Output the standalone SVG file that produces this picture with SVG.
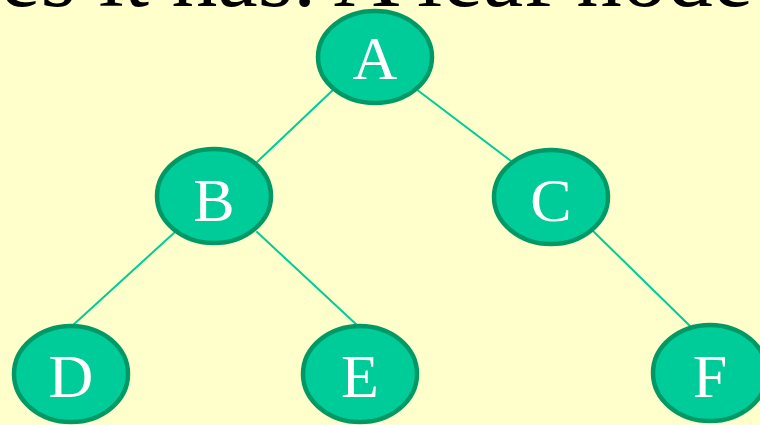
<svg xmlns="http://www.w3.org/2000/svg" width="760" height="425" viewBox="0 0 760 425">
  <style>
    .node ellipse { fill: #00cc99; stroke: #009966; stroke-width: 4.5; }
    .node text { fill: #ffffff; font-family: "Liberation Serif", "Times New Roman", serif; font-size: 62px; text-anchor: middle; }
    .edges line { stroke: #00cc99; stroke-width: 2; stroke-linecap: round; }
    .caption { fill: #000000; font-family: "Liberation Serif", "Times New Roman", serif; font-size: 91px; }
  </style>
  <rect width="760" height="425" fill="#ffffcc"/>
  <text class="caption" x="0" y="6">es it has. A leaf node</text>

  <g id="edges" class="edges">
    <line x1="334" y1="89" x2="257" y2="162"/>
    <line x1="416" y1="89" x2="511" y2="161"/>
    <line x1="175" y1="232" x2="72" y2="326"/>
    <line x1="257" y1="232" x2="358" y2="326"/>
    <line x1="593" y1="231" x2="690" y2="326"/>
  </g>

  <g id="node-A" class="node">
    <ellipse cx="375" cy="57" rx="57" ry="46"/>
    <text x="375" y="79">A</text>
  </g>
  <g id="node-B" class="node">
    <ellipse cx="214" cy="196" rx="57" ry="47"/>
    <text x="214" y="221">B</text>
  </g>
  <g id="node-C" class="node">
    <ellipse cx="551" cy="197" rx="57" ry="47"/>
    <text x="551" y="221">C</text>
  </g>
  <g id="node-D" class="node">
    <ellipse cx="71" cy="374" rx="57" ry="48"/>
    <text x="71" y="397">D</text>
  </g>
  <g id="node-E" class="node">
    <ellipse cx="360" cy="374" rx="57" ry="48"/>
    <text x="360" y="397">E</text>
  </g>
  <g id="node-F" class="node">
    <ellipse cx="710" cy="373" rx="57" ry="48"/>
    <text x="710" y="397">F</text>
  </g>
</svg>
